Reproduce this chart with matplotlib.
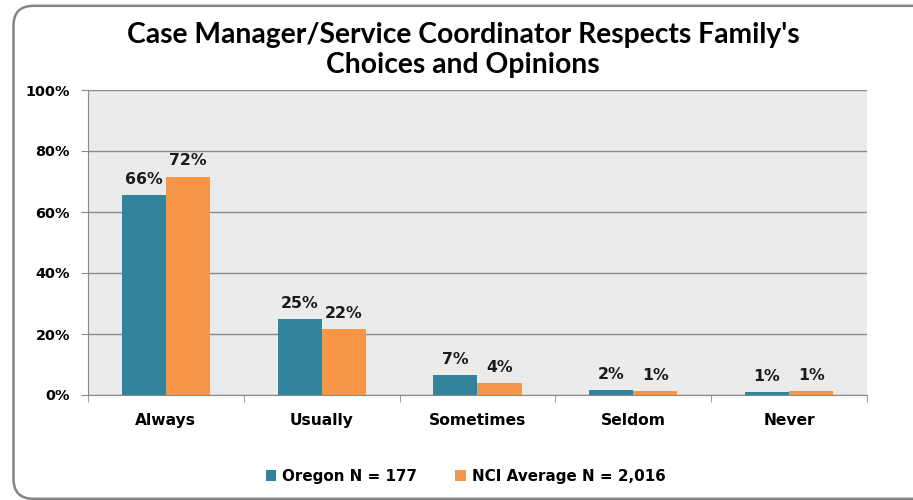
import matplotlib.pyplot as plt
from matplotlib.patches import FancyBboxPatch
import numpy as np

categories = ['Always', 'Usually', 'Sometimes', 'Seldom', 'Never']
oregon = [65.6, 24.9, 6.6, 1.6, 1.0]
nci = [71.6, 21.6, 3.9, 1.3, 1.3]
oregon_labels = ['66%', '25%', '7%', '2%', '1%']
nci_labels = ['72%', '22%', '4%', '1%', '1%']
series_names = ['Oregon N = 177', 'NCI Average N = 2,016']

teal = '#31849B'
orange = '#F79646'
lab_font = 'DejaVu Sans'

fig = plt.figure(figsize=(9.13, 5.0), dpi=100)
# outer rounded frame (runs off the right edge like the original)
fig.patches.append(FancyBboxPatch((0.135, 0.012), 9.2, 4.93,
                                  boxstyle='round,pad=0,rounding_size=0.2',
                                  transform=fig.dpi_scale_trans, fill=False,
                                  edgecolor='#858585', linewidth=1.8))

ax = fig.add_axes([0.0964, 0.21, 0.8532, 0.61])
ax.set_facecolor('#EBEBEB')

x = np.arange(len(categories))
w = 0.283
b1 = ax.bar(x - w / 2, oregon, w, color=teal, label=series_names[0], zorder=3)
b2 = ax.bar(x + w / 2, nci, w, color=orange, label=series_names[1], zorder=3)

for bars, labs in ((b1, oregon_labels), (b2, nci_labels)):
    for r, t in zip(bars, labs):
        ax.text(r.get_x() + r.get_width() / 2, r.get_height() + 2.7, t,
                ha='center', va='bottom', fontsize=11.3, fontweight='bold',
                family=lab_font, color='#1a1a1a')

ax.set_xlim(-0.5, len(categories) - 0.5)
ax.set_ylim(0, 100)
ax.set_yticks(range(0, 101, 20))
ax.set_yticklabels([f'{v}%' for v in range(0, 101, 20)], fontsize=10.4,
                   fontweight='bold', family=lab_font)
ax.yaxis.grid(True, color='#8a8a8a', linewidth=1, zorder=0)
ax.set_axisbelow(True)

ax.set_xticks(x)
ax.set_xticklabels(categories, fontsize=11.2, fontweight='bold', family=lab_font)
ax.set_xticks(np.arange(-0.5, len(categories)), minor=True)
ax.tick_params(axis='x', which='major', length=0, pad=13)
ax.tick_params(axis='x', which='minor', length=5, color='#8a8a8a')
ax.tick_params(axis='y', length=5, color='#8a8a8a', pad=8)

for s in ['top', 'right']:
    ax.spines[s].set_visible(False)
ax.spines['left'].set_color('#8a8a8a')
ax.spines['bottom'].set_color('#8a8a8a')

fig.text(0.507, 0.9, "Case Manager/Service Coordinator Respects Family's\nChoices and Opinions",
         ha='center', va='center', fontsize=20.3, fontweight='bold', family='Lato',
         linespacing=1.2)

fig.legend(loc='center', bbox_to_anchor=(0.51, 0.047), ncol=2, frameon=False,
           prop={'family': lab_font, 'weight': 'bold', 'size': 10.9},
           handlelength=0.7, handleheight=0.7, columnspacing=2.5, handletextpad=0.4)

fig.savefig('out.png', dpi=100)
